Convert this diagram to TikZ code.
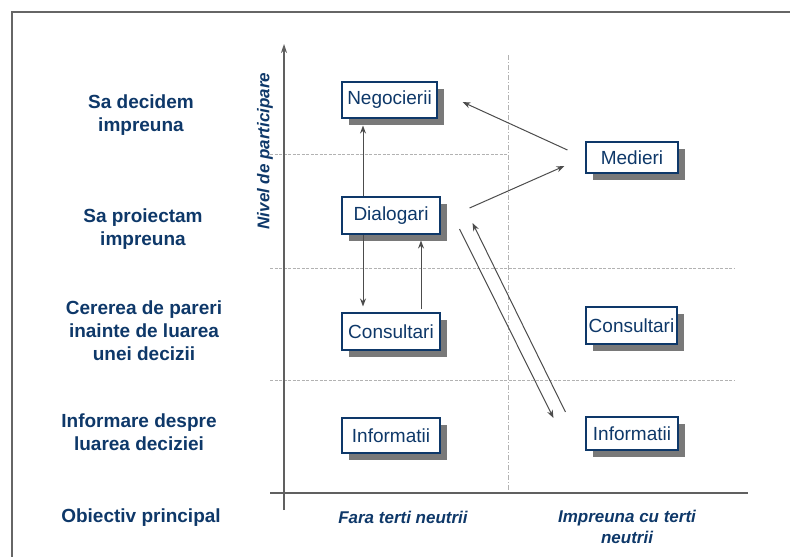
\documentclass[tikz,border=0pt]{standalone}
\usepackage{fontspec}
\setmainfont{Liberation Sans}
\usepackage{xcolor}
\usepackage{tikz}
\usetikzlibrary{calc,arrows.meta,positioning,shadows}
\definecolor{darkblue}{RGB}{14,56,105}

\begin{document}
\begin{tikzpicture}[x=1pt,y=-1pt]
            \tikzstyle{box}=[draw=darkblue, line width=1.1pt, fill=white, text=darkblue, inner xsep=2pt,
                drop shadow={shadow xshift=6.5pt, shadow yshift=-6.5pt, fill=gray!95!black, opacity=1},
                font=\fontsize{19}{22}\selectfont]
            \tikzstyle{lab}=[text=darkblue, align=center, font=\fontsize{19}{23}\selectfont\bfseries]
            \tikzstyle{axlab}=[text=darkblue, align=center, font=\fontsize{17}{21}\selectfont\bfseries\itshape]
            \tikzstyle{grid}=[gray!60, line width=0.8pt, dash pattern=on 3pt off 1.5pt]
            \tikzstyle{arr}=[black!70, line width=1pt, -{Stealth[length=8pt,width=6pt]}]
            \useasboundingbox (0,0) rectangle (790,557);
            % frame and axes
            \draw [gray!80!black, line width=1.2pt] (12,560) -- (12,12) -- (792,12);
            \draw [grid] (270,154) -- (508,154);
            \draw [grid] (270,268) -- (735,268);
            \draw [grid] (270,380) -- (735,380);
            \draw [grid, dash pattern=on 5pt off 2pt on 1pt off 2pt] (508,55) -- (508,493);
            \draw [gray!75!black, line width=1.1pt] (270,493) -- (748,493);
            \draw [gray!75!black, line width=1.1pt, -{Stealth[length=9pt,width=6pt]}] (284,510) -- (284,44);
            \node [axlab, rotate=90] (yaxis) at (265,151) {Nivel de participare};
            % row labels
            \node [lab] (decide) at (141,115) {Sa decidem\\impreuna};
            \node [lab] (proiect) at (143,229) {Sa proiectam\\impreuna};
            \node [lab] (cerere) at (144,331) {Cererea de pareri\\inainte de luarea\\unei decizii};
            \node [lab] (informare) at (139,432) {Informare despre\\luarea deciziei};
            \node [lab] (obiectiv) at (141,518) {Obiectiv principal};
            % column labels
            \node [axlab] (fara) at (403,517) {Fara terti neutrii};
            \node [axlab] (cu) at (627,527) {Impreuna cu terti\\neutrii};
            % boxes
            \node [box, minimum width=95pt, minimum height=36pt] (neg) at (389.5,100) {Negocierii};
            \node [box, minimum width=98pt, minimum height=37pt] (dial) at (391,215.5) {Dialogari};
            \node [box, minimum width=98pt, minimum height=37pt] (consL) at (391,331.5) {Consultari};
            \node [box, minimum width=98pt, minimum height=35pt] (infL) at (391,435.5) {Informatii};
            \node [box, minimum width=92pt, minimum height=31pt] (med) at (632,157.5) {Medieri};
            \node [box, minimum width=91pt, minimum height=37pt] (consR) at (631.5,325.5) {Consultari};
            \node [box, minimum width=92pt, minimum height=33pt] (infR) at (632,433.5) {Informatii};
            % connectors
            \draw [arr] ($(dial.north)+(-28,0)$) -- ($(neg.south)+(-26.5,7)$);
            \draw [arr] ($(dial.south)+(-28,0)$) -- ($(consL.north)+(-28,-6)$);
            \draw [arr] ($(consL.north)+(30,-3)$) -- ($(dial.south)+(30,6)$);
            \draw [arr] ($(med.west)+(-18,-7.5)$) -- ($(neg.east)+(25,2)$);
            \draw [arr] ($(dial.east)+(29,-7.5)$) -- ($(med.west)+(-21,8.5)$);
            \draw [arr] ($(dial.east)+(19,13.5)$) -- ($(infR.west)+(-32,-15.5)$);
            \draw [arr] ($(infR.west)+(-20,-21.5)$) -- ($(dial.east)+(32,7.5)$);
\end{tikzpicture}
\end{document}
